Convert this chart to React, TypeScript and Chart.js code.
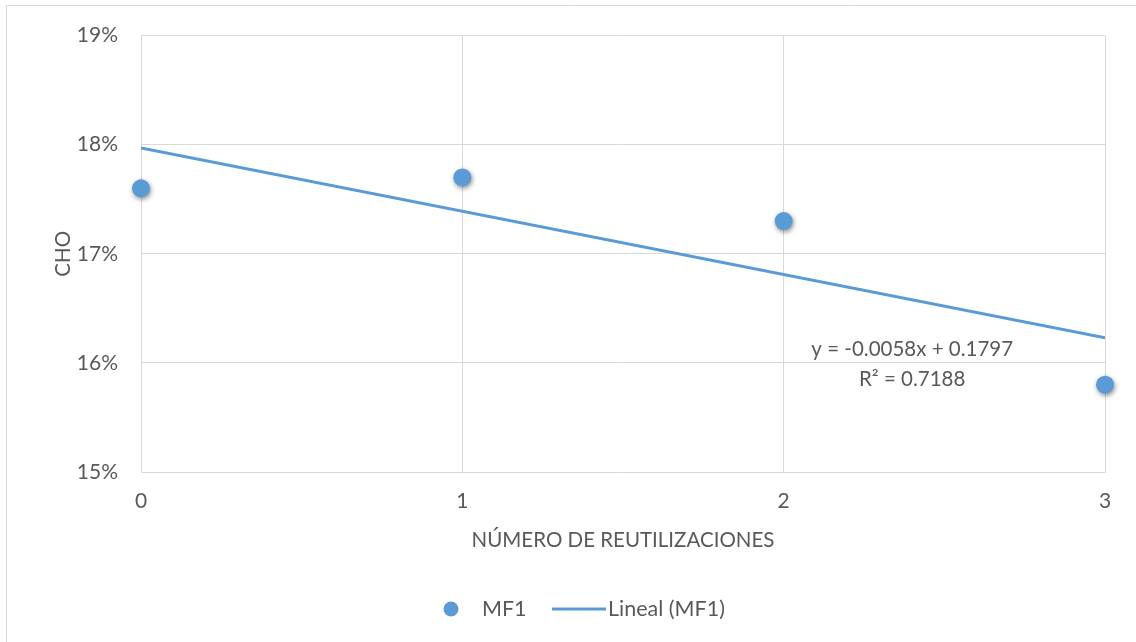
import React, { useEffect, useRef } from "react";
import { Chart, registerables } from "chart.js";

Chart.register(...registerables);

const categories = [0, 1, 2, 3];
const mf1Values = [0.176, 0.177, 0.173, 0.158];
const trendSlope = -0.0058;
const trendIntercept = 0.1797;
const equationText = "y = -0.0058x + 0.1797";
const r2Text = "R² = 0.7188";
const yTicks = [0.15, 0.16, 0.17, 0.18, 0.19];
const seriesLabel = "MF1";
const trendLabel = "Lineal (MF1)";
const xTitle = "NÚMERO DE REUTILIZACIONES";
const yTitle = "CHO";

const BLUE = "#5b9bd5";
const GRID = "#d9d9d9";
const TEXT = "#595959";
const FONT = "Lato, 'Open Sans', sans-serif";

export default function App() {
  const ref = useRef<HTMLCanvasElement | null>(null);
  useEffect(() => {
    document.body.style.margin = "0";
    const canvas = ref.current!;
    const trendData = [categories[0], categories[categories.length - 1]].map((x) => ({
      x,
      y: trendSlope * x + trendIntercept,
    }));

    const decor = {
      id: "decor",
      beforeDraw(chart: any) {
        const ctx = chart.ctx;
        ctx.save();
        ctx.fillStyle = "#fff";
        ctx.fillRect(0, 0, chart.width, chart.height);
        ctx.strokeStyle = GRID;
        ctx.lineWidth = 1;
        ctx.beginPath();
        ctx.moveTo(6.5, chart.height + 2);
        ctx.lineTo(6.5, 5.5);
        ctx.lineTo(chart.width + 2, 5.5);
        ctx.stroke();
        ctx.restore();
      },
      beforeDatasetDraw(chart: any, args: any) {
        if (args.index === 0) {
          const ctx = chart.ctx;
          ctx.save();
          ctx.shadowColor = "rgba(0,0,0,0.45)";
          ctx.shadowBlur = 5;
          ctx.shadowOffsetX = 1;
          ctx.shadowOffsetY = 2;
        }
      },
      afterDatasetDraw(chart: any, args: any) {
        if (args.index === 0) chart.ctx.restore();
      },
      afterDraw(chart: any) {
        const ctx = chart.ctx;
        const { chartArea, scales } = chart;
        const xs = scales.x;
        const ys = scales.y;
        ctx.save();
        ctx.fillStyle = TEXT;
        ctx.font = `20.5px ${FONT}`;
        ctx.textAlign = "center";
        ctx.textBaseline = "middle";
        // equation label
        const ex = xs.getPixelForValue(2.4);
        ctx.fillText(equationText, ex, ys.getPixelForValue(0.1612));
        ctx.fillText(r2Text, ex, ys.getPixelForValue(0.15845));
        // x title
        ctx.fillText(xTitle, (chartArea.left + chartArea.right) / 2, 540);
        // y title
        ctx.save();
        ctx.translate(63, (chartArea.top + chartArea.bottom) / 2);
        ctx.rotate(-Math.PI / 2);
        ctx.fillText(yTitle, 0, 0);
        ctx.restore();
        // legend
        const ly = 609;
        ctx.font = `21.5px ${FONT}`;
        ctx.textAlign = "left";
        ctx.fillStyle = BLUE;
        ctx.beginPath();
        ctx.arc(451, ly, 7.5, 0, Math.PI * 2);
        ctx.fill();
        ctx.fillStyle = TEXT;
        ctx.fillText(chart.data.datasets[0].label, 482, ly);
        ctx.strokeStyle = BLUE;
        ctx.lineWidth = 3;
        ctx.beginPath();
        ctx.moveTo(552, ly);
        ctx.lineTo(606, ly);
        ctx.stroke();
        ctx.fillText(chart.data.datasets[1].label, 608, ly);
        ctx.restore();
      },
    };

    const chart = new Chart(canvas, {
      type: "scatter",
      data: {
        datasets: [
          {
            label: seriesLabel,
            data: categories.map((x, i) => ({ x, y: mf1Values[i] })),
            backgroundColor: BLUE,
            borderColor: BLUE,
            borderWidth: 0,
            pointRadius: 9,
            pointHoverRadius: 9,
            clip: false,
            order: 1,
          } as any,
          {
            label: trendLabel,
            data: trendData,
            showLine: true,
            borderColor: BLUE,
            backgroundColor: BLUE,
            borderWidth: 3,
            pointRadius: 0,
            pointHoverRadius: 0,
            order: 2,
          } as any,
        ],
      },
      options: {
        responsive: false,
        animation: false,
        layout: { padding: { top: 35, right: 31, left: 0, bottom: 0 } },
        plugins: { legend: { display: false }, tooltip: { enabled: false } },
        scales: {
          x: {
            type: "linear",
            min: 0,
            max: 3,
            afterFit(scale: any) {
              scale.height = 642 - 472;
            },
            afterBuildTicks(scale: any) {
              scale.ticks = categories.map((v) => ({ value: v }));
            },
            grid: { color: GRID, drawTicks: false, lineWidth: 1 },
            border: { color: GRID },
            ticks: {
              color: TEXT,
              font: { family: FONT, size: 21 },
              padding: 17,
              callback: (v: any) => String(v),
            },
          },
          y: {
            type: "linear",
            min: 0.15,
            max: 0.19,
            afterFit(scale: any) {
              scale.width = 141;
            },
            afterBuildTicks(scale: any) {
              scale.ticks = yTicks.map((v) => ({ value: v }));
            },
            grid: { color: GRID, drawTicks: false, lineWidth: 1 },
            border: { color: GRID },
            ticks: {
              color: TEXT,
              font: { family: FONT, size: 21 },
              padding: 23,
              callback: (v: any) => Math.round(Number(v) * 100) + "%",
            },
          },
        },
      },
      plugins: [decor],
    });
    return () => chart.destroy();
  }, []);
  return <canvas ref={ref} width={1136} height={642} style={{ display: "block" }} />;
}
